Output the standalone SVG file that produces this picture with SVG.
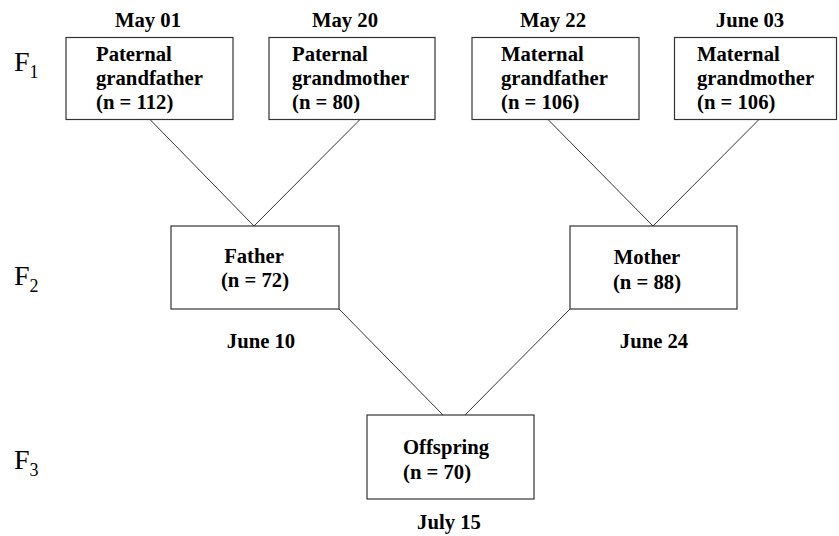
<svg xmlns="http://www.w3.org/2000/svg" width="839" height="536" viewBox="0 0 839 536">
<style>
.box{fill:#fff;stroke:#333;stroke-width:1.2}
.t{font-family:"Liberation Serif","Times New Roman",serif;font-weight:bold;font-size:20.7px;fill:#000}
.c{text-anchor:middle}
.g{font-family:"Liberation Serif","Times New Roman",serif;font-size:28px;fill:#000}
.s{font-size:18px}
.ln{stroke:#333;stroke-width:1;fill:none}
</style>
<rect width="839" height="536" fill="#fff"/>
<g id="generation-labels">
<text class="g" x="14" y="71">F<tspan class="s" dy="7">1</tspan></text>
<text class="g" x="14" y="285">F<tspan class="s" dy="7">2</tspan></text>
<text class="g" x="14" y="469">F<tspan class="s" dy="7">3</tspan></text>
</g>
<g id="connectors">
<line class="ln" x1="150" y1="119.5" x2="254" y2="226"/>
<line class="ln" x1="360" y1="119.5" x2="254" y2="226"/>
<line class="ln" x1="548" y1="119.5" x2="653" y2="226"/>
<line class="ln" x1="759" y1="119.5" x2="653" y2="226"/>
<line class="ln" x1="339" y1="309" x2="443" y2="415"/>
<line class="ln" x1="570" y1="309" x2="465" y2="415"/>
</g>
<g id="paternal-grandfather">
<rect class="box" x="66" y="37.5" width="167" height="82"/>
<text class="t c" x="148" y="27">May 01</text>
<text class="t" x="96" y="61">Paternal</text>
<text class="t" x="96" y="85">grandfather</text>
<text class="t" x="96" y="109">(n = 112)</text>
</g>
<g id="paternal-grandmother">
<rect class="box" x="269" y="37.5" width="166" height="82"/>
<text class="t c" x="345" y="27">May 20</text>
<text class="t" x="292" y="61">Paternal</text>
<text class="t" x="292" y="85">grandmother</text>
<text class="t" x="292" y="109">(n = 80)</text>
</g>
<g id="maternal-grandfather">
<rect class="box" x="472" y="37.5" width="167" height="82"/>
<text class="t c" x="553" y="27">May 22</text>
<text class="t" x="501" y="61">Maternal</text>
<text class="t" x="501" y="85">grandfather</text>
<text class="t" x="501" y="109">(n = 106)</text>
</g>
<g id="maternal-grandmother">
<rect class="box" x="674.5" y="37.5" width="162" height="82"/>
<text class="t c" x="750" y="27">June 03</text>
<text class="t" x="697" y="61">Maternal</text>
<text class="t" x="697" y="85">grandmother</text>
<text class="t" x="697" y="109">(n = 106)</text>
</g>
<g id="father">
<rect class="box" x="171" y="226" width="168" height="83"/>
<text class="t c" x="254" y="263">Father</text>
<text class="t c" x="255" y="287">(n = 72)</text>
<text class="t c" x="261" y="348">June 10</text>
</g>
<g id="mother">
<rect class="box" x="570" y="226" width="167" height="83"/>
<text class="t c" x="647" y="264">Mother</text>
<text class="t c" x="647" y="289">(n = 88)</text>
<text class="t c" x="654" y="348">June 24</text>
</g>
<g id="offspring">
<rect class="box" x="367" y="415" width="167" height="84"/>
<text class="t" x="403" y="454">Offspring</text>
<text class="t" x="403" y="479">(n = 70)</text>
<text class="t c" x="449" y="529">July 15</text>
</g>
</svg>
